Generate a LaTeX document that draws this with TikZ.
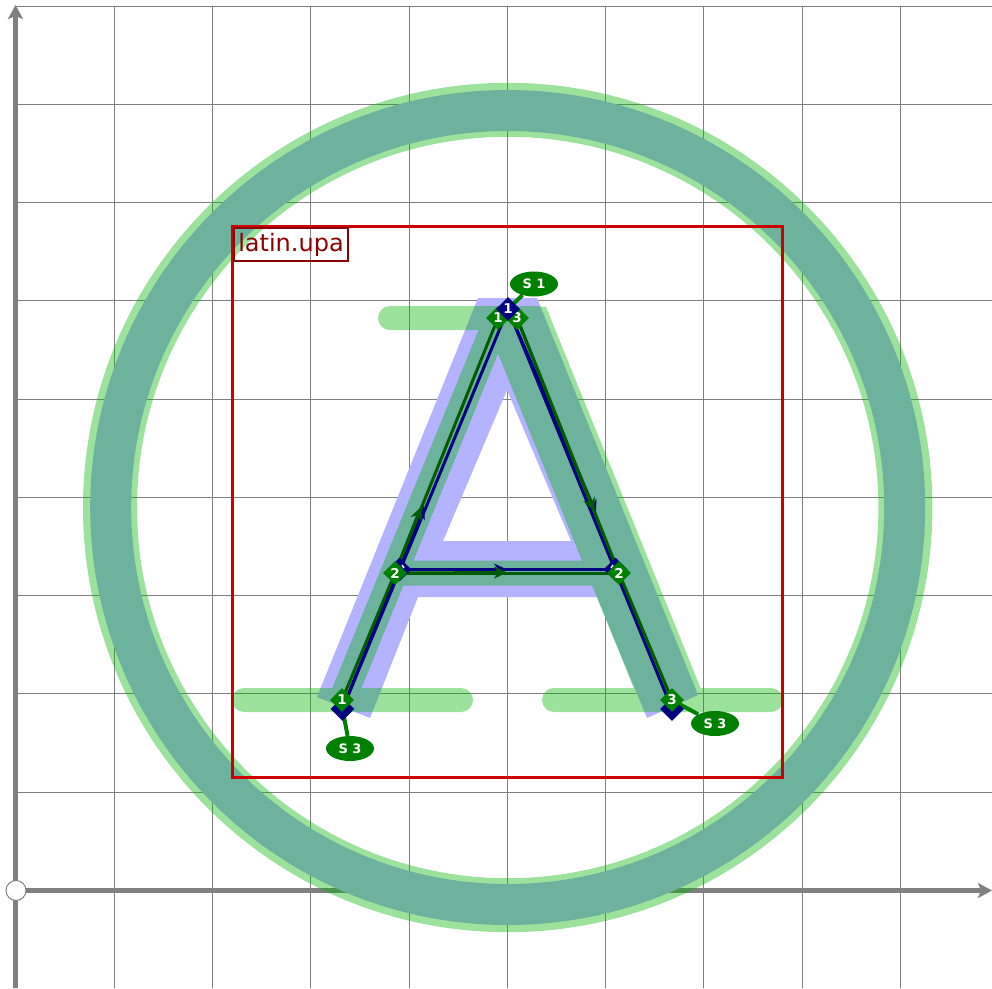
\documentclass[tikz,border=0pt]{standalone}
\usepackage{fontspec}
\setmainfont{DejaVu Sans}
\usetikzlibrary{arrows.meta,shapes.geometric,calc}
\definecolor{gridc}{RGB}{128,128,128}
\definecolor{fatg}{RGB}{0,178,0}
\definecolor{fatb}{RGB}{179,179,255}
\definecolor{sg}{RGB}{0,128,0}
\definecolor{dg}{RGB}{0,90,0}
\definecolor{nv}{RGB}{0,0,128}
\definecolor{rd}{RGB}{204,0,0}
\definecolor{drd}{RGB}{139,0,0}
\tikzset{
  gridline/.style={draw=gridc,line width=1pt},
  axisline/.style={draw=gridc,line width=5pt,-{Stealth[length=14pt,width=15pt,inset=3pt]}},
  fatgreen/.style={draw=fatg,line cap=butt},
  fatroundg/.style={draw=fatg,line cap=round,line width=24pt},
  fatblue/.style={fill=fatb},
  pt/.style={diamond,aspect=1,inner sep=0pt,minimum size=24pt,text=white,font=\bfseries\fontsize{13.5}{13.5}\selectfont},
  ptg/.style={pt,fill=sg},
  ptn/.style={pt,fill=nv},
  skn/.style={draw=nv,line width=3pt},
  skg/.style={draw=dg,line width=3pt},
  tagnode/.style={ellipse,fill=sg,text=white,inner sep=0pt,minimum width=48pt,minimum height=25pt,font=\bfseries\fontsize{13}{13}\selectfont},
  tagline/.style={draw=sg,line width=4pt},
  arrowg/.style={draw=dg,line width=3pt,-{Stealth[length=13pt,width=12pt]}},
  arrown/.style={draw=nv,line width=3pt,-{Stealth[length=13pt,width=12pt]}},
  glint/.style={draw=white,line width=1.4pt},
}
\begin{document}
\begin{tikzpicture}[x=1pt,y=-1pt]
\useasboundingbox (0,0) rectangle (992,988);
% grid
\foreach \xx in {114,212,310,409,507,605,703,802,900}
  \draw[gridline] (\xx,6) -- (\xx,988);
\foreach \yy in {6,104,202,300,399,497,595,693,792}
  \draw[gridline] (16,\yy) -- (992,\yy);
% axes
\coordinate (xs) at (6,890.5); \coordinate (xe) at (992,890.5);
\coordinate (ys) at (15.5,988); \coordinate (ye) at (15.5,5);
\draw[axisline] (xs) -- (xe);
\draw[axisline] (ys) -- (ye);
% blue glyph
\fill[fatblue,even odd rule] (317,697) -- (478,298) -- (537,298) -- (698,695) -- (647,718) -- (597,597) -- (418,597) -- (370,718) -- cycle
  (507,390) -- (571,541) -- (443,541) -- cycle;
\draw[draw=fatb,line width=41pt] (507.7,507.5) circle[radius=397];
% skeleton coordinates
\coordinate (sa) at (390,318); \coordinate (sb) at (538,318);
\coordinate (sc) at (244,700); \coordinate (sd) at (461,700);
\coordinate (se) at (554,700); \coordinate (sf) at (771,700);
\coordinate (gl) at (342,700); \coordinate (gm) at (395,573); \coordinate (gt) at (498,318);
\coordinate (gu) at (517,318); \coordinate (gr) at (619,573); \coordinate (gb) at (672,700);
% green fat strokes, one group so overlaps stay uniform
\begin{scope}[transparency group,opacity=.39]
\draw[fatgreen,line width=54pt] (507.7,507.5) circle[radius=397.7];
\draw[fatroundg] (sa) -- (sb);
\draw[fatroundg] (sc) -- (sd);
\draw[fatroundg] (se) -- (sf);
\draw[fatgreen,line width=27pt] (gl) -- (gt);
\draw[fatgreen,line width=62pt] (gu) -- (gb);
\draw[fatgreen,line width=25pt] (gm) -- (gr);
\end{scope}
% navy skeleton
\coordinate (nl) at (342.5,709); \coordinate (nt) at (508,309); \coordinate (nb) at (672,709);
\coordinate (nc) at (399.5,569.5); \coordinate (nd) at (615.5,569.5);
\draw[skn] (nl) -- (nt) -- (nb);
\draw[skn] (nc) -- (nd);
\coordinate (anh) at (507,569.5); \coordinate (anl) at (424,506); \coordinate (anr) at (596,513);
\draw[arrown] (nc) -- (anh);
\draw[arrown] (nl) -- (anl);
\draw[arrown] (nt) -- (anr);
% green skeleton
\draw[skg] (gl) -- (gm) -- (gt);
\draw[skg] (gu) -- (gr) -- (gb);
\draw[skg] (gm) -- (gr);
\coordinate (agh) at (507,572.5); \coordinate (agl) at (421,507); \coordinate (agr) at (594,511);
\draw[arrowg] (gm) -- (agh);
\draw[arrowg] (gm) -- (agl);
\draw[arrowg] (gu) -- (agr);
% tags
\node[tagnode] (s1) at (534,284) {S 1};
\node[tagnode] (s3a) at (350,748.5) {S 3};
\node[tagnode] (s3b) at (715,723.5) {S 3};
\draw[tagline] (nt) -- (s1);
\draw[tagline] (nl) -- (s3a);
\draw[tagline] (gb) -- (s3b);
% navy points
\node[ptn] (pn1) at (nl) {};
\node[ptn] (pn2) at (nb) {};
\node[ptn] (pn3) at (nc) {};
\node[ptn] (pn4) at (nd) {};
\draw[glint] (402,565) -- (404,568);
\draw[glint] (613,565) -- (611,568);
% green points
\node[ptg] (p1) at (gl) {1};
\node[ptg] (p2) at (gm) {2};
\node[ptg] (p3) at (gt) {1};
\node[ptg] (p4) at (gu) {3};
\node[ptg] (p5) at (gr) {2};
\node[ptg] (p6) at (gb) {3};
\node[ptn] (pn5) at (nt) {1};
% boxes
\draw[draw=rd,line width=3pt] (232.5,226.5) rectangle (782,777);
\node[draw=drd,line width=2pt,anchor=north west,minimum width=114pt,minimum height=33pt,inner sep=0pt,text=drd,font=\fontsize{24}{24}\selectfont] (lab) at (233,227) {latin.upa};
% origin
\node[circle,draw=gridc,fill=white,line width=1pt,minimum size=20pt,inner sep=0pt] (o) at (16,890.5) {};
\end{tikzpicture}
\end{document}
